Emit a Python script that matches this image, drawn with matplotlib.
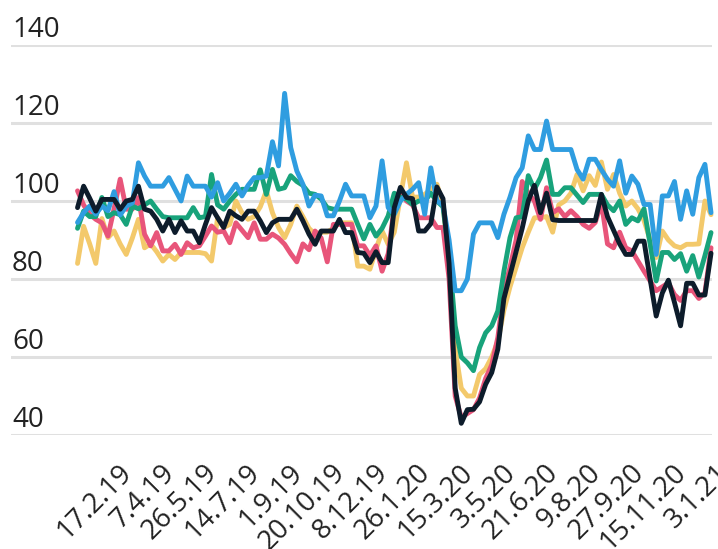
import numpy as np
import pandas as pd
import matplotlib
matplotlib.use("Agg")
import matplotlib.pyplot as plt
from matplotlib.transforms import ScaledTranslation

plt.rcParams['font.family'] = ['Open Sans', 'DejaVu Sans']

# === data (weekly index values) ===
weeks = pd.date_range("2019-01-06", periods=105, freq="7D")
tick_start = 6
tick_step = 7
y_ticks = [40, 60, 80, 100, 120, 140]

yellow = [84, 93.5, 89, 84, 95.5, 90.6, 92.3, 89, 86.3, 90.5,
          95.3, 88, 89, 87, 84.6, 86.3, 85, 86.8, 86.8, 86.8,
          86.8, 86.5, 84.6, 95.7, 93.2, 94, 100, 97, 95.3, 96,
          98.5, 102.6, 97, 93.2, 90.6, 94, 98.7, 96, 93, 91.5,
          92, 92, 93, 94.4, 94.4, 94.4, 83.3, 83.3, 82.5, 87.6,
          92.3, 88.9, 92, 101, 109.8, 101, 101, 101.7, 103, 104.3,
          99, 84, 62, 52, 50, 50, 55.5, 57, 60, 64,
          72, 78, 83, 88, 92, 95.7, 95.7, 96, 92, 99,
          100, 102, 106.8, 102.6, 106.5, 104, 110, 103, 106.8, 102,
          98.7, 100, 98, 95, 90, 85.5, 92.3, 90, 88.5, 88,
          88.9, 88.9, 89, 100, 96.5]

pink = [102.6, 99, 96.6, 95.3, 94.4, 91, 98, 105.6, 97.9, 97.9,
        100.9, 91.5, 88.5, 91.9, 87.2, 87.2, 88.9, 86.3, 89.3, 88,
        88.5, 91, 93.6, 92, 92.3, 89.3, 94.4, 92.5, 90.6, 94.4,
        90.2, 90.2, 91.5, 90.5, 88.9, 86.5, 84.4, 89, 87.5, 92.3,
        90.5, 84.4, 94, 94, 94, 94, 88.5, 88.5, 86, 88.5,
        82, 86.5, 98.5, 102.5, 100, 99, 95.7, 95.7, 95.7, 93.2,
        93.2, 80, 50, 44.5, 45.5, 46.5, 49.5, 54.5, 58, 65,
        77, 83, 90, 105, 102, 100, 95.3, 103.4, 97, 98,
        96, 97.5, 96, 94, 93, 94.5, 99.6, 89, 88, 92,
        88, 87.2, 84.6, 82, 79.5, 77, 78, 79, 76, 74.5,
        77, 77, 75, 76.5, 88]

green = [93, 97.4, 96, 96, 100.9, 96, 97, 96.5, 94, 98.7,
         98, 99, 100, 97.9, 96, 95.7, 95.7, 95.7, 95.7, 98.3,
         95.7, 96, 106.8, 99, 97.9, 100, 101.7, 103, 103, 103,
         108, 101.7, 108.1, 103, 103.4, 106.5, 105, 104, 102, 101.7,
         100.5, 98.3, 97.9, 97.9, 97.9, 97.9, 94, 90.3, 94, 91,
         93, 96.2, 102, 101, 100.5, 99.1, 100, 100, 102, 100,
         98.5, 86, 68, 60, 58.5, 56.5, 62.4, 66.2, 68, 71.8,
         82, 90.6, 95.7, 96, 106.5, 103, 106, 110.5, 101.7, 101.7,
         103.4, 103.4, 101.5, 99.6, 101.7, 101.7, 101.7, 99, 97.5, 100,
         94, 95.7, 94.9, 98, 89, 79.5, 86.8, 86.8, 85, 86.5,
         82, 86, 80.5, 86, 91.9]

blue = [94.5, 97, 98.7, 96.6, 98.7, 97.5, 102.4, 96.4, 98.7, 99.5,
        109.8, 106.4, 103.8, 103.8, 103.8, 106, 103, 100, 106.4, 103.8,
        103.8, 103.8, 101, 104.7, 100, 102, 104.3, 101.3, 104, 106,
        106, 106.4, 115.2, 109, 127.6, 113.7, 107.7, 104.3, 98.7, 101.5,
        101.3, 96.2, 96.2, 100, 104.3, 101.3, 101.3, 101.3, 95.7, 98.7,
        110.3, 98.3, 96.6, 100, 101.7, 103, 104.7, 96.6, 108.5, 100,
        99, 90, 77, 77, 80, 91.5, 94.4, 94.4, 94.4, 90.6,
        96.6, 101, 106, 108.5, 116.7, 113.2, 113.2, 120.5, 113.2, 113.2,
        113.2, 113.2, 108.1, 105.6, 110.7, 110.7, 108, 105.6, 103.8, 110.3,
        102, 106.4, 104.3, 99.1, 99.1, 86.3, 101.3, 101.3, 105, 95.3,
        102.6, 96.6, 106, 109.4, 97]

black = [98.3, 103.8, 100.7, 97.4, 100.4, 100.4, 100.4, 97.9, 100, 100.4,
         103.8, 97.9, 97.4, 95.3, 92.3, 95.3, 91.9, 94.9, 92.3, 92.3,
         89.3, 94, 98.3, 95.7, 93.2, 97.4, 96.2, 95.3, 97.4, 97.4,
         94.9, 91.9, 94.4, 95.3, 95.3, 95.3, 97.9, 94.9, 91.5, 88.9,
         92.3, 92.3, 92.3, 95.3, 91.9, 91.9, 86.8, 86.6, 84.2, 87,
         84.2, 84.2, 98.3, 103.5, 100.9, 100.6, 92.3, 92.3, 94.2, 103.6,
         100.6, 84, 52, 43, 46.5, 46.6, 48.5, 53, 56, 62,
         75, 81, 87, 93, 100, 104, 97, 102, 95.2, 95,
         95, 95, 95, 95, 95, 95, 101.7, 96, 92.5, 89,
         86.3, 86.3, 89.7, 89.7, 80, 70.5, 76.4, 79.7, 74, 68,
         78.9, 78.9, 75.9, 75.9, 86.6]

series = [
    (yellow, '#f3c96b'),
    (pink, '#e8557a'),
    (green, '#18a37b'),
    (blue, '#2f9de0'),
    (black, '#0d1c2b'),
]

# === figure ===
fig = plt.figure(figsize=(7.18, 5.49), dpi=100)
ax = fig.add_axes([11 / 718, 114 / 549, 701 / 718, 390 / 549])

x = np.arange(len(weeks))
for vals, color in series:
    ax.plot(x, vals, color=color, lw=3.5, solid_joinstyle='round',
            solid_capstyle='round', clip_on=False)

ax.set_xlim(-10.92, 104.16)
ax.set_ylim(40, 140)

for s in ax.spines.values():
    s.set_visible(False)

# gridlines with labels sitting on top of them
ax.set_yticks(y_ticks)
ax.yaxis.grid(True, color='#e0e0e0', lw=2.2)
ax.set_axisbelow(True)
ax.tick_params(axis='y', length=0, labelleft=False)
for v in y_ticks:
    ax.annotate(str(v), xy=(0, v), xycoords=('axes fraction', 'data'),
                xytext=(1, 8), textcoords='offset pixels',
                fontsize=20, color='#222222', ha='left', va='baseline')

# rotated date labels
tick_idx = x[tick_start::tick_step]
ax.set_xticks(tick_idx)
ax.tick_params(axis='x', length=0, pad=17)
ax.set_xticklabels([f"{d.day}.{d.month}.{d.year % 100}" for d in weeks[tick_idx]],
                   rotation=45, ha='right', va='top', rotation_mode='anchor',
                   fontsize=20, color='#222222')
shift = ScaledTranslation(4 / 100, 0, fig.dpi_scale_trans)
for lab in ax.get_xticklabels():
    lab.set_transform(lab.get_transform() + shift)

fig.savefig('out.png', dpi=100)
